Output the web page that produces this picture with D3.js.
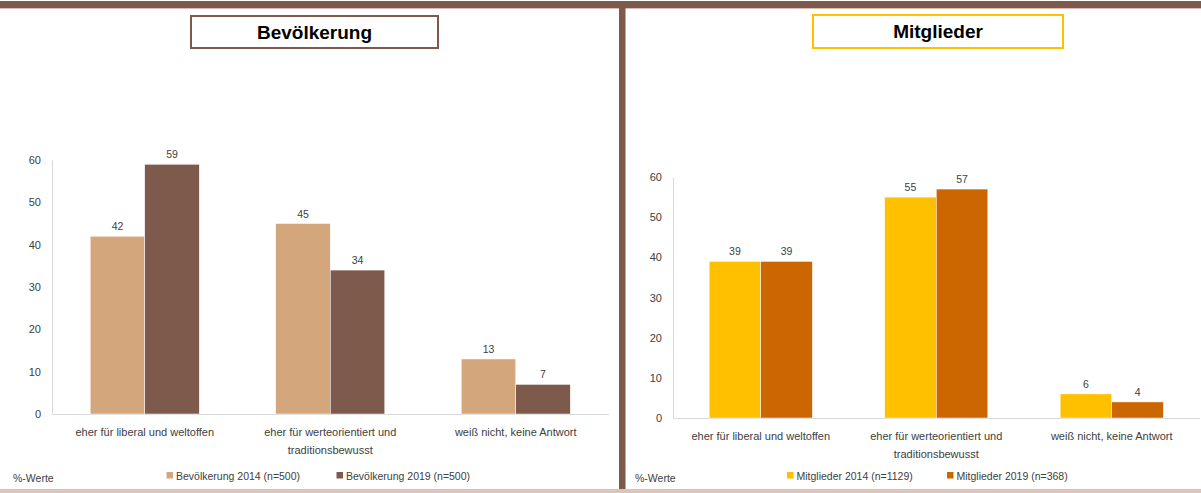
<!DOCTYPE html>
<html>
<head>
<meta charset="utf-8">
<script src="https://cdn.jsdelivr.net/npm/d3@7"></script>
<style>
  body { margin: 0; background: #fff; }
  svg { display: block; font-family: "Liberation Sans", Arial, sans-serif; }
</style>
</head>
<body>
<div id="chart"></div>
<script>
// data
var categories = ["eher für liberal und weltoffen", "eher für werteorientiert und traditionsbewusst", "weiß nicht, keine Antwort"];
var catLines = [["eher für liberal und weltoffen"], ["eher für werteorientiert und", "traditionsbewusst"], ["weiß nicht, keine Antwort"]];
var bev2014 = [42, 45, 13];
var bev2019 = [59, 34, 7];
var mit2014 = [39, 55, 6];
var mit2019 = [39, 57, 4];
var yTicks = [0, 10, 20, 30, 40, 50, 60];
var bevLegend = ["Bevölkerung 2014 (n=500)", "Bevölkerung 2019 (n=500)"];
var mitLegend = ["Mitglieder 2014 (n=1129)", "Mitglieder 2019 (n=368)"];

var W = 1201, H = 493;

var svg = d3.select("#chart")
    .append("svg")
    .attr("width", W)
    .attr("height", H);

// frame bands
svg.append("rect").attr("x", 0).attr("y", 1).attr("width", W).attr("height", 7).style("fill", "#7e5a4c");
svg.append("rect").attr("x", 0).attr("y", 8).attr("width", W).attr("height", 1).style("fill", "#d9bdb2");
svg.append("rect").attr("x", 0).attr("y", 489).attr("width", W).attr("height", 4).style("fill", "#dfc3b8");
svg.append("rect").attr("x", 619).attr("y", 8).attr("width", 6.5).attr("height", 481).style("fill", "#7e5a4c");

function drawPanel(cfg) {
    var g = svg.append("g");

    // title box
    g.append("rect")
        .attr("x", cfg.box[0]).attr("y", cfg.box[1])
        .attr("width", cfg.box[2]).attr("height", cfg.box[3])
        .style("fill", "#fff")
        .style("stroke", cfg.boxColor)
        .style("stroke-width", 2);
    g.append("text")
        .attr("x", cfg.box[0] + cfg.box[2] / 2)
        .attr("y", cfg.box[1] + cfg.box[3] / 2 + 6.5)
        .attr("text-anchor", "middle")
        .style("font-size", "19px")
        .style("font-weight", "bold")
        .style("fill", "#000")
        .text(cfg.title);

    var x = d3.scaleBand()
        .domain(categories)
        .range([cfg.left, cfg.right])
        .paddingInner(0.412)
        .paddingOuter(0.206);
    var x1 = d3.scaleBand()
        .domain([0, 1])
        .range([0, x.bandwidth()]);
    var y = d3.scaleLinear()
        .domain([0, 60])
        .range([cfg.bottom, cfg.top]);

    // y axis
    var yAxis = g.append("g")
        .attr("transform", "translate(" + cfg.left + ",0)")
        .call(d3.axisLeft(y).tickValues(yTicks).tickSize(0).tickPadding(11));
    yAxis.select(".domain").style("stroke", "#d9d9d9");
    yAxis.selectAll("text").style("font-size", "11px").style("fill", "#404040").attr("font-family", null);

    // x axis
    var xAxis = g.append("g")
        .attr("transform", "translate(0," + cfg.bottom + ")")
        .call(d3.axisBottom(x).tickSize(0).tickFormat(""));
    xAxis.select(".domain").style("stroke", "#d9d9d9");

    var series = [cfg.s1, cfg.s2];
    series.forEach(function (vals, si) {
        g.selectAll(".bar" + si)
            .data(vals)
            .enter().append("rect")
            .attr("x", function (d, i) { return x(categories[i]) + x1(si); })
            .attr("y", function (d) { return y(d); })
            .attr("width", x1.bandwidth())
            .attr("height", function (d) { return y(0) - y(d); })
            .style("fill", cfg.colors[si])
            .style("stroke", "#fff")
            .style("stroke-width", 0.5);
        g.selectAll(".lab" + si)
            .data(vals)
            .enter().append("text")
            .attr("x", function (d, i) { return x(categories[i]) + x1(si) + x1.bandwidth() / 2; })
            .attr("y", function (d) { return y(d) - 6; })
            .attr("text-anchor", "middle")
            .style("font-size", "10.5px")
            .style("fill", "#404040")
            .text(function (d) { return d; });
    });

    // category labels
    catLines.forEach(function (lines, i) {
        lines.forEach(function (t, li) {
            g.append("text")
                .attr("x", x(categories[i]) + x.bandwidth() / 2)
                .attr("y", cfg.bottom + 22 + li * 18)
                .attr("text-anchor", "middle")
                .style("font-size", "11px")
                .style("fill", "#404040")
                .text(t);
        });
    });

    // legend
    g.append("text")
        .attr("x", cfg.noteX).attr("y", 482)
        .style("font-size", "10.5px")
        .style("fill", "#404040")
        .text("%-Werte");
    cfg.legend.forEach(function (t, i) {
        g.append("rect")
            .attr("x", cfg.legX[i]).attr("y", 472)
            .attr("width", 6.5).attr("height", 6.5)
            .style("fill", cfg.colors[i]);
        g.append("text")
            .attr("x", cfg.legX[i] + 9.5).attr("y", 479.5)
            .style("font-size", "10.5px")
            .style("fill", "#404040")
            .text(t);
    });
}

drawPanel({
    title: "Bevölkerung", box: [191, 16, 247, 32], boxColor: "#7e5a4c",
    left: 52, right: 608.5, top: 160, bottom: 414,
    s1: bev2014, s2: bev2019, colors: ["#d4a67c", "#7e5a4c"],
    legend: bevLegend, legX: [166.5, 336.5], noteX: 13
});

drawPanel({
    title: "Mitglieder", box: [813, 15, 250, 33], boxColor: "#ffc000",
    left: 673, right: 1199.5, top: 177, bottom: 418,
    s1: mit2014, s2: mit2019, colors: ["#ffc000", "#cc6600"],
    legend: mitLegend, legX: [787, 947], noteX: 635
});
</script>
</body>
</html>
